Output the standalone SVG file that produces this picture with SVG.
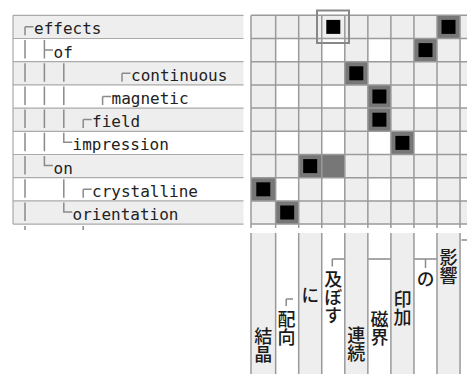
<svg xmlns="http://www.w3.org/2000/svg" width="467" height="374" viewBox="0 0 467 374">
<style>
.en{font-family:"DejaVu Sans Mono","Liberation Mono",monospace;font-size:16px;fill:#222}
.ja{font-family:"Noto Sans CJK JP",sans-serif;font-size:18px;font-weight:500;fill:#1a1a1a;writing-mode:vertical-rl}
.tree{fill:none;stroke:#8a8a8a;stroke-width:1.5}
.grid{fill:none;stroke:#9a9a9a;stroke-width:1.5}
.sep{fill:none;stroke:#aaa;stroke-width:1.2}
.lg{fill:#eeeeee}
.wh{fill:#ffffff}
.dk{fill:#777777}
.bk{fill:#000000}
</style>
<rect width="467" height="374" fill="#fff"/>

<g id="left-table">
<rect class="lg" x="13" y="15.3" width="230.5" height="23.2"/>
<rect class="lg" x="13" y="61.7" width="230.5" height="23.2"/>
<rect class="lg" x="13" y="108.1" width="230.5" height="23.2"/>
<rect class="lg" x="13" y="154.5" width="230.5" height="23.2"/>
<rect class="lg" x="13" y="200.9" width="230.5" height="23.2"/>
<path class="sep" d="M13 15.3H243.5M13 38.5H243.5M13 61.7H243.5M13 84.9H243.5M13 108.1H243.5M13 131.3H243.5M13 154.5H243.5M13 177.7H243.5M13 200.9H243.5M13 224.1H243.5M13 15.3V224.1"/>
</g>

<g id="connectors">
<path class="tree" d="
M25 26.8H33.5M25 26.8V35.3
M25 40V58.5M44.4 40V58.5M44.4 50H53
M25 63.2V81.7M44.4 63.2V81.7M63.8 63.2V81.7M122 73.2H130.5M122 73.2V81.7
M25 86.4V104.9M44.4 86.4V104.9M63.8 86.4V104.9M102.6 96.4H111.1M102.6 96.4V104.9
M25 109.6V128.1M44.4 109.6V128.1M63.8 109.6V128.1M83.2 119.6H91.7M83.2 119.6V128.1
M25 132.8V151.3M44.4 132.8V151.3M63.8 132.8V142.3H72.3
M25 156V174.5M44.4 156V165.5H52.9
M25 179.2V197.7M63.8 179.2V197.7M83.2 189.2H91.7M83.2 189.2V197.7
M25 202.4V220.9M63.8 202.4V211.9H72.3
M25 226V230M83.2 226V230"/>
<path class="tree" d="
M262.3 318.5H269.5M262.3 318.5V325.5
M286.2 299H293M286.2 299V306
M309.2 278.5H316M309.2 278.5V285.5
M332.3 259H437M332.3 259V266.5
M425.5 259V268
M449.5 240H457M449.5 240V248
M461.5 240H467"/>
</g>

<g id="left-rows">
<g id="n-effects"><text class="en" x="34" y="34.3">effects</text></g>
<g id="n-of"><text class="en" x="53.5" y="57.5">of</text></g>
<g id="n-continuous"><text class="en" x="131" y="80.7">continuous</text></g>
<g id="n-magnetic"><text class="en" x="111.5" y="103.9">magnetic</text></g>
<g id="n-field"><text class="en" x="92" y="127.1">field</text></g>
<g id="n-impression"><text class="en" x="72.5" y="150.3">impression</text></g>
<g id="n-on"><text class="en" x="53.5" y="173.5">on</text></g>
<g id="n-crystalline"><text class="en" x="92" y="196.7">crystalline</text></g>
<g id="n-orientation"><text class="en" x="72.5" y="219.9">orientation</text></g>
</g>

<g id="matrix">
<rect class="lg" x="251" y="15.3" width="216" height="208.8"/>
<rect class="wh" x="275.65" y="38.5" width="23.05" height="23.2"/>
<rect class="wh" x="321.75" y="38.5" width="23.05" height="23.2"/>
<rect class="wh" x="367.85" y="38.5" width="23.05" height="23.2"/>
<rect class="wh" x="460.05" y="38.5" width="7" height="23.2"/>
<rect class="wh" x="275.65" y="84.9" width="23.05" height="23.2"/>
<rect class="wh" x="321.75" y="84.9" width="23.05" height="23.2"/>
<rect class="wh" x="413.95" y="84.9" width="23.05" height="23.2"/>
<rect class="wh" x="460.05" y="84.9" width="7" height="23.2"/>
<rect class="wh" x="275.65" y="131.3" width="23.05" height="23.2"/>
<rect class="wh" x="321.75" y="131.3" width="23.05" height="23.2"/>
<rect class="wh" x="367.85" y="131.3" width="23.05" height="23.2"/>
<rect class="wh" x="413.95" y="131.3" width="23.05" height="23.2"/>
<rect class="wh" x="460.05" y="131.3" width="7" height="23.2"/>
<rect class="wh" x="275.65" y="177.7" width="23.05" height="23.2"/>
<rect class="wh" x="321.75" y="177.7" width="23.05" height="23.2"/>
<rect class="wh" x="367.85" y="177.7" width="23.05" height="23.2"/>
<rect class="wh" x="413.95" y="177.7" width="23.05" height="23.2"/>
<rect class="wh" x="460.05" y="177.7" width="7" height="23.2"/>
<rect class="dk" x="437" y="15.3" width="23.05" height="23.2"/>
<rect class="dk" x="413.95" y="38.5" width="23.05" height="23.2"/>
<rect class="dk" x="344.8" y="61.7" width="23.05" height="23.2"/>
<rect class="dk" x="367.85" y="84.9" width="23.05" height="23.2"/>
<rect class="dk" x="367.85" y="108.1" width="23.05" height="23.2"/>
<rect class="dk" x="390.9" y="131.3" width="23.05" height="23.2"/>
<rect class="dk" x="298.7" y="154.5" width="46.1" height="23.2"/>
<rect class="dk" x="251" y="177.7" width="24.65" height="23.2"/>
<rect class="dk" x="275.65" y="200.9" width="23.05" height="23.2"/>
<path class="grid" d="M251 15.3H467M251 38.5H467M251 61.7H467M251 84.9H467M251 108.1H467M251 131.3H467M251 154.5H467M251 177.7H467M251 200.9H467M251 224.1H467
M251 15.3V228M275.65 15.3V228M298.7 15.3V228M321.75 15.3V228M344.8 15.3V228M367.85 15.3V228M390.9 15.3V228M413.95 15.3V228M437 15.3V228M460.05 15.3V228"/>
<rect class="bk" x="326.3" y="19.9" width="14" height="14"/>
<rect class="bk" x="441.5" y="19.9" width="14" height="14"/>
<rect class="bk" x="418.5" y="43.1" width="14" height="14"/>
<rect class="bk" x="349.3" y="66.3" width="14" height="14"/>
<rect class="bk" x="372.4" y="89.5" width="14" height="14"/>
<rect class="bk" x="372.4" y="112.7" width="14" height="14"/>
<rect class="bk" x="395.4" y="135.9" width="14" height="14"/>
<rect class="bk" x="303.2" y="159.1" width="14" height="14"/>
<rect class="bk" x="256.3" y="182.3" width="14" height="14"/>
<rect class="bk" x="280.2" y="205.5" width="14" height="14"/>
<rect x="317" y="10.5" width="32" height="32.5" fill="none" stroke="#888" stroke-width="2"/>
</g>

<g id="columns">
<rect class="lg" x="251" y="233" width="24.65" height="141"/>
<rect class="lg" x="298.7" y="233" width="23.05" height="141"/>
<rect class="lg" x="344.8" y="233" width="23.05" height="141"/>
<rect class="lg" x="390.9" y="233" width="23.05" height="141"/>
<rect class="lg" x="437" y="233" width="23.05" height="141"/>
<path class="grid" d="M251 233V374M275.65 233V374M298.7 233V374M321.75 233V374M344.8 233V374M367.85 233V374M390.9 233V374M413.95 233V374M437 233V374M460.05 233V374"/>
</g>

<g id="ja-words">
<g id="j-kessho"><text class="ja" x="263.3" y="327">結晶</text></g>
<g id="j-haiko"><text class="ja" x="286.5" y="310.5">配向</text></g>
<g id="j-ni"><text class="ja" x="310.2" y="286">に</text></g>
<g id="j-oyobosu"><text class="ja" x="333.3" y="270">及ぼす</text></g>
<g id="j-renzoku"><text class="ja" x="356.3" y="326.5">連続</text></g>
<g id="j-jikai"><text class="ja" x="379.4" y="310.5">磁界</text></g>
<g id="j-inka"><text class="ja" x="402.4" y="290.5">印加</text></g>
<g id="j-no"><text class="ja" x="425.5" y="270.5">の</text></g>
<g id="j-eikyo"><text class="ja" x="448.5" y="248.5">影響</text></g>
</g>
</svg>
